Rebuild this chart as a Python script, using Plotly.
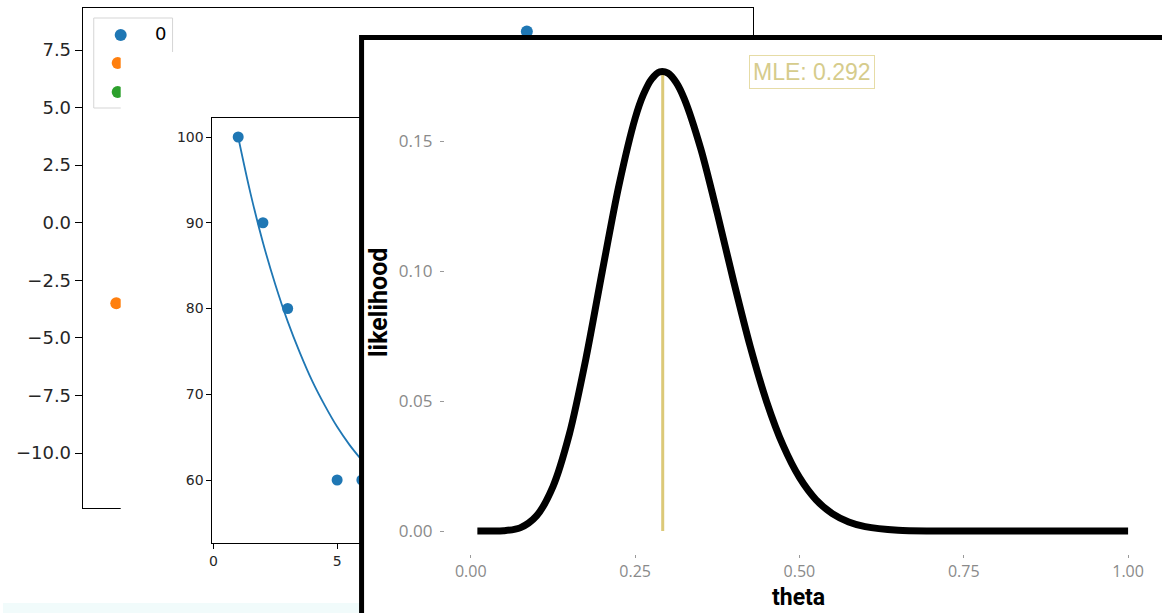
import plotly.graph_objects as go

W, H = 1162, 613

# ---------------- data ----------------
# Panel 1 (back matplotlib scatter, mostly hidden)
p1_names = ["0", "1", "2"]
p1_colors = ["#1f77b4", "#ff7f0e", "#2ca02c"]
p1_x0 = [3.9]
p1_y0 = [8.3]
p1_x1 = [-10.8]
p1_y1 = [-3.5]
p1_yticks = [-10.0, -7.5, -5.0, -2.5, 0.0, 2.5, 5.0, 7.5]

# Panel 2 (middle matplotlib scatter + fitted curve)
p2_x = [1, 2, 3, 5, 6]
p2_y = [100, 90, 80, 60, 60]
p2_fit_x = [1.0, 1.5, 2.0, 2.5, 3.0, 3.5, 4.0, 4.5, 5.0, 5.5, 6.0, 6.5]
p2_fit_y = [100.0, 93.4, 87.7, 82.8, 78.5, 74.8, 71.5, 68.7, 66.2, 64.1, 62.3, 60.6]
p2_xticks = [0, 5]
p2_yticks = [60, 70, 80, 90, 100]

# Panel 3 (front likelihood plot)
theta = [0.01, 0.03, 0.05, 0.075, 0.1, 0.125, 0.15, 0.175, 0.2, 0.225, 0.25,
         0.2625, 0.275, 0.2875, 0.3, 0.3125, 0.325, 0.35, 0.375, 0.4, 0.425,
         0.45, 0.475, 0.5, 0.525, 0.55, 0.575, 0.6, 0.65, 0.7, 0.8, 0.9, 1.0]
likelihood = [0.0, 0.0, 0.0001, 0.0012, 0.0058, 0.0171, 0.0373, 0.0661, 0.0998,
              0.1325, 0.1587, 0.1678, 0.1738, 0.1766, 0.1761, 0.1725, 0.1661,
              0.1469, 0.1222, 0.0959, 0.0711, 0.0498, 0.0330, 0.0206, 0.0121,
              0.0067, 0.0035, 0.0017, 0.0003, 0.0, 0.0, 0.0, 0.0]
mle = 0.292
mle_peak = 0.1767
mle_label = "MLE: 0.292"
p3_xticks = [0.0, 0.25, 0.5, 0.75, 1.0]
p3_yticks = [0.0, 0.05, 0.10, 0.15]


# ---------------- helpers (pixel layout) ----------------
def fx(px):
    return px / W


def fy(py):
    return 1 - py / H


def lin(p, pa, va, pb, vb):
    return va + (p - pa) * (vb - va) / (pb - pa)


fig = go.Figure()

# ---- subplot 1: back panel ----
fig.add_trace(go.Scatter(x=p1_x0, y=p1_y0, mode="markers", xaxis="x", yaxis="y",
                         marker=dict(size=12, color=p1_colors[0]), showlegend=False,
                         hoverinfo="skip"))
fig.add_trace(go.Scatter(x=p1_x1, y=p1_y1, mode="markers", xaxis="x", yaxis="y",
                         marker=dict(size=12, color=p1_colors[1]), showlegend=False,
                         hoverinfo="skip"))
# ---- subplot 2: card behind panel 2 (empty) ----
fig.add_trace(go.Scatter(x=[None], y=[None], xaxis="x2", yaxis="y2", showlegend=False,
                         hoverinfo="skip"))
# ---- subplot 3: panel 2 ----
fig.add_trace(go.Scatter(x=p2_fit_x, y=p2_fit_y, mode="lines", xaxis="x3", yaxis="y3",
                         line=dict(color="#1f77b4", width=1.8, shape="spline"),
                         showlegend=False, hoverinfo="skip"))
fig.add_trace(go.Scatter(x=p2_x, y=p2_y, mode="markers", xaxis="x3", yaxis="y3",
                         marker=dict(size=11, color="#1f77b4"), showlegend=False,
                         hoverinfo="skip"))
# ---- subplot 4: card behind panel 3 (empty) ----
fig.add_trace(go.Scatter(x=[None], y=[None], xaxis="x4", yaxis="y4", showlegend=False,
                         hoverinfo="skip"))
# ---- subplot 5: panel 3 ----
fig.add_trace(go.Scatter(x=[mle, mle], y=[0, mle_peak], mode="lines", xaxis="x5", yaxis="y5",
                         line=dict(color="#dcc978", width=3), showlegend=False,
                         hoverinfo="skip"))
fig.add_trace(go.Scatter(x=theta, y=likelihood, mode="lines", xaxis="x5", yaxis="y5",
                         line=dict(color="black", width=7, shape="spline", smoothing=0.8),
                         showlegend=False, hoverinfo="skip"))

blank = dict(showline=False, showticklabels=False, showgrid=False, zeroline=False,
             ticks="", fixedrange=True)

mpl_font = dict(family="DejaVu Sans", color="#262626")

# panel 1 geometry
p1_left, p1_right, p1_top, p1_bot = 80, 752, 8, 508
p1_yr = [lin(p1_bot, 50, 7.5, 453, -10.0), lin(p1_top, 50, 7.5, 453, -10.0)]

# panel 2 geometry
p2_left, p2_right, p2_top, p2_bot = 210, 777, 118, 543
p2_xr = [lin(p2_left, 211, 0, 335, 5), lin(p2_right, 211, 0, 335, 5)]
p2_yr = [lin(p2_bot, 137, 100, 480, 60), lin(p2_top, 137, 100, 480, 60)]

# panel 3 geometry
p3_left, p3_right, p3_top, p3_bot = 443, 1160, 49, 554
p3_xr = [lin(p3_left, 469, 0, 1128, 1), lin(p3_right, 469, 0, 1128, 1)]
p3_yr = [lin(p3_bot, 531, 0, 141, 0.15), lin(p3_top, 531, 0, 141, 0.15)]

gg_font = dict(family="Open Sans, Lato, sans-serif", size=17, color="#8a8a8a")
gg_font_x = dict(family="Open Sans, Lato, sans-serif", size=16, color="#8a8a8a")

fig.update_layout(
    width=W, height=H, autosize=False,
    margin=dict(l=0, r=0, t=0, b=0, pad=0),
    paper_bgcolor="white", plot_bgcolor="white",
    showlegend=False,
    xaxis=dict(domain=[fx(p1_left), fx(p1_right)], range=[-12, 12], anchor="y",
               showline=True, mirror=True, linecolor="black", linewidth=1.2,
               showticklabels=False, ticks="", showgrid=False, zeroline=False),
    yaxis=dict(domain=[fy(p1_bot), fy(p1_top)], range=p1_yr, anchor="x",
               tickmode="array", tickvals=p1_yticks, tickformat=".1f",
               ticks="outside", ticklen=7, tickwidth=1.2, tickcolor="black",
               tickfont=dict(size=18, **mpl_font),
               showline=True, mirror=True, linecolor="black", linewidth=1.2,
               showgrid=False, zeroline=False),
    xaxis2=dict(domain=[fx(118), fx(800)], range=[0, 1], anchor="y2", **blank),
    yaxis2=dict(domain=[fy(602), fy(52)], range=[0, 1], anchor="x2", **blank),
    xaxis3=dict(domain=[fx(p2_left), fx(p2_right)], range=p2_xr, anchor="y3",
                tickmode="array", tickvals=p2_xticks,
                ticks="outside", ticklen=5, tickwidth=1, tickcolor="black",
                tickfont=dict(size=14, **mpl_font),
                showline=True, mirror=True, linecolor="black", linewidth=1,
                showgrid=False, zeroline=False),
    yaxis3=dict(domain=[fy(p2_bot), fy(p2_top)], range=p2_yr, anchor="x3",
                tickmode="array", tickvals=p2_yticks,
                ticks="outside", ticklen=5, tickwidth=1, tickcolor="black",
                tickfont=dict(size=14, **mpl_font),
                showline=True, mirror=True, linecolor="black", linewidth=1,
                showgrid=False, zeroline=False),
    xaxis4=dict(domain=[fx(358), 1], range=[0, 1], anchor="y4", **blank),
    yaxis4=dict(domain=[0, fy(36)], range=[0, 1], anchor="x4", **blank),
    xaxis5=dict(domain=[fx(p3_left), fx(p3_right)], range=p3_xr, anchor="y5",
                tickmode="array", tickvals=p3_xticks, tickformat=".2f",
                ticks="outside", ticklen=3, tickwidth=1, tickcolor="#9a9a9a",
                tickfont=gg_font_x, showline=False, showgrid=False, zeroline=False),
    yaxis5=dict(domain=[fy(p3_bot), fy(p3_top)], range=p3_yr, anchor="x5",
                tickmode="array", tickvals=p3_yticks, tickformat=".2f",
                ticks="outside", ticklen=4, tickwidth=1, tickcolor="#9a9a9a",
                ticklabelstandoff=4,
                tickfont=gg_font, showline=False, showgrid=False, zeroline=False),
)

# background strip at the very bottom of the screenshot collage
fig.add_shape(type="rect", xref="paper", yref="paper", x0=0, x1=1, y0=fy(613), y1=fy(603),
              fillcolor="#f1fbfb", line=dict(width=0), layer="below")

# panel 1 legend (partially hidden by panel 2 card)
fig.add_shape(type="rect", xref="paper", yref="paper", x0=fx(91), x1=fx(170),
              y0=fy(108), y1=fy(18), fillcolor="white",
              line=dict(color="#d5d5d5", width=1), layer="below")
legend_rows_py = [35, 63, 92]
legend_cx = [118, 115, 115]
for name, col, py, cx in zip(p1_names, p1_colors, legend_rows_py, legend_cx):
    r = 6
    fig.add_shape(type="circle", xref="paper", yref="paper",
                  x0=fx(cx - r), x1=fx(cx + r), y0=fy(py + r), y1=fy(py - r),
                  fillcolor=col, line=dict(width=0), layer="below")
fig.add_annotation(text=p1_names[0], xref="paper", yref="paper", x=fx(158), y=fy(33),
                   xanchor="center", yanchor="middle", showarrow=False,
                   font=dict(family="DejaVu Sans", size=18, color="black"))

# panel 3 black frame
fig.add_shape(type="rect", xref="paper", yref="paper", x0=fx(359.5), x1=fx(1175),
              y0=fy(630), y1=fy(37.5), line=dict(color="black", width=5),
              fillcolor="rgba(0,0,0,0)", layer="above")

# panel 3 label and axis titles
fig.add_annotation(text=mle_label, xref="x5", yref="y5", x=lin(811, 469, 0, 1128, 1),
                   y=mle_peak, xanchor="center", yanchor="middle", showarrow=False,
                   font=dict(family="Liberation Sans, Arial, sans-serif", size=23, color="#d6cc8c"),
                   bordercolor="#e6dca6", borderwidth=1, borderpad=3, bgcolor="white")
fig.add_annotation(text="<b>theta</b>", xref="paper", yref="paper", x=fx(798), y=fy(597),
                   xanchor="center", yanchor="middle", showarrow=False,
                   font=dict(family="Roboto, sans-serif", size=23, color="black"))
fig.add_annotation(text="<b>likelihood</b>", xref="paper", yref="paper", x=fx(376), y=fy(303),
                   xanchor="center", yanchor="middle", showarrow=False, textangle=-90,
                   font=dict(family="Roboto, sans-serif", size=25, color="black"))

fig.write_html("out.html", config={"displayModeBar": False},
               post_script="document.body.style.margin='0';")
